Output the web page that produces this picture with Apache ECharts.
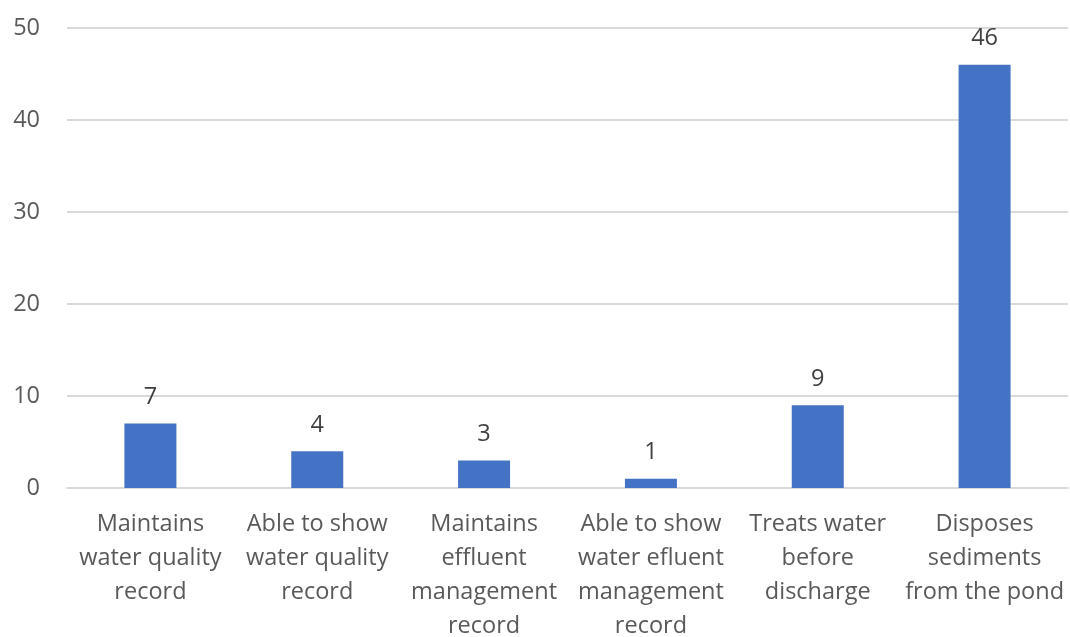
<!DOCTYPE html>
<html>
<head>
<meta charset="utf-8">
<script src="https://cdn.jsdelivr.net/npm/echarts@6/dist/echarts.min.js"></script>
<style>
  html, body { margin: 0; padding: 0; background: #fff; }
  #chart { width: 1070px; height: 637px; }
</style>
</head>
<body>
<div id="chart"></div>
<script>
// Pond water and effluent management practices (number of farms)
const categories = [
  'Maintains\nwater quality\nrecord',
  'Able to show\nwater quality\nrecord',
  'Maintains\neffluent\nmanagement\nrecord',
  'Able to show\nwater efluent\nmanagement\nrecord',
  'Treats water\nbefore\ndischarge',
  'Disposes\nsediments\nfrom the pond'
];
const counts = [7, 4, 3, 1, 9, 46];
const yTicks = { min: 0, max: 50, interval: 10 };

const FONT = '"Open Sans", "Noto Sans", sans-serif';

const chart = echarts.init(document.getElementById('chart'));
chart.setOption({
  animation: false,
  backgroundColor: '#ffffff',
  grid: {
    left: 67, right: 2, top: 28, bottom: 149,
    containLabel: false,
    outerBoundsMode: 'none'
  },
  xAxis: {
    type: 'category',
    data: categories,
    axisLine: { show: true, lineStyle: { color: '#d9d9d9', width: 2 } },
    axisTick: { show: false },
    axisLabel: {
      interval: 0,
      margin: 19,
      color: '#595959',
      fontFamily: FONT,
      fontSize: 23.5,
      lineHeight: 34
    }
  },
  yAxis: {
    type: 'value',
    min: yTicks.min,
    max: yTicks.max,
    interval: yTicks.interval,
    axisLine: { show: false },
    axisTick: { show: false },
    splitLine: { lineStyle: { color: '#d9d9d9', width: 2 } },
    axisLabel: {
      margin: 27,
      color: '#595959',
      fontFamily: FONT,
      fontSize: 23.5
    }
  },
  series: [{
    type: 'bar',
    data: counts,
    barWidth: 52,
    itemStyle: { color: '#4472c4' },
    label: {
      show: true,
      position: 'top',
      distance: 14,
      color: '#404040',
      fontFamily: FONT,
      fontSize: 23.5
    }
  }]
});
</script>
</body>
</html>
